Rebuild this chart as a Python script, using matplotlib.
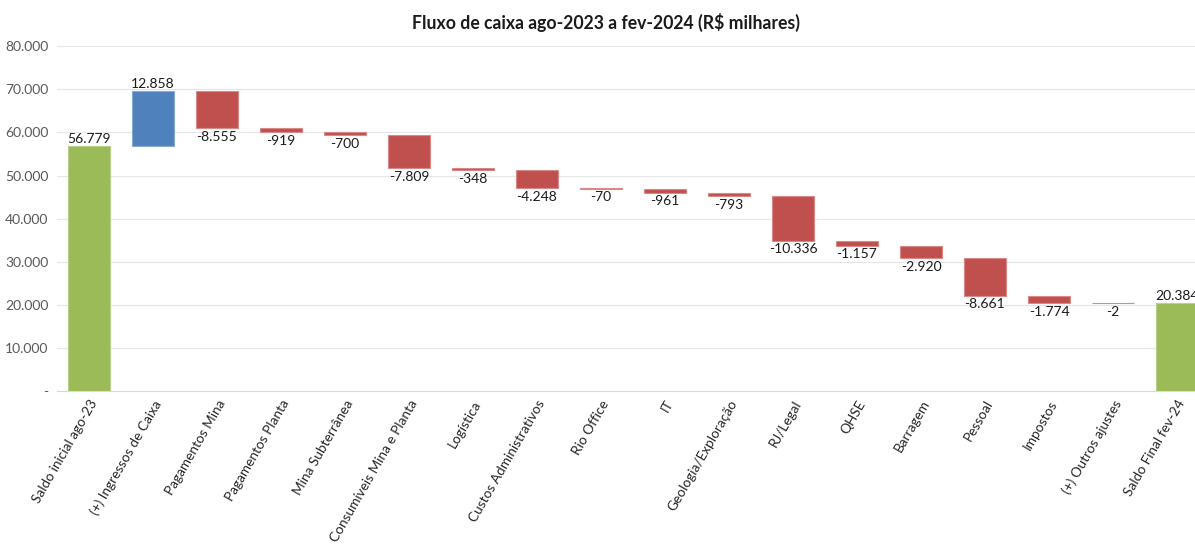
import numpy as np
import matplotlib

matplotlib.use("Agg")
import matplotlib.pyplot as plt
from matplotlib.ticker import FuncFormatter

plt.rcParams["font.family"] = ["Lato", "DejaVu Sans"]

categories = [
    "Saldo inicial ago-23",
    "(+) Ingressos de Caixa",
    "Pagamentos Mina",
    "Pagamentos Planta",
    "Mina Subterrânea",
    "Consumíveis Mina e Planta",
    "Logística",
    "Custos Administrativos",
    "Rio Office",
    "IT",
    "Geologia/Exploração",
    "RJ/Legal",
    "QHSE",
    "Barragem",
    "Pessoal",
    "Impostos",
    "(+) Outros ajustes",
    "Saldo Final fev-24",
]
start_balance = 56779
deltas = [12858, -8555, -919, -700, -7809, -348, -4248, -70, -961, -793,
          -10336, -1157, -2920, -8661, -1774, -2]
end_balance = 20384

GREEN = "#9BBB59"
BLUE = "#4F81BD"
RED = "#C0504D"


def fmt_br(v):
    return f"{v:,.0f}".replace(",", ".")


# build waterfall pieces
bottoms = [0]
heights = [start_balance]
colors = [GREEN]
edges = ["#B8D08A"]
level = start_balance
for d in deltas:
    if d >= 0:
        bottoms.append(level)
        heights.append(d)
        colors.append(BLUE)
        edges.append("#8AAAD6")
    else:
        bottoms.append(level + d)
        heights.append(-d)
        colors.append(RED)
        edges.append("#D98A88")
    level += d
bottoms.append(0)
heights.append(end_balance)
colors.append(GREEN)
edges.append("#B8D08A")

values = [start_balance] + deltas + [end_balance]
x = np.arange(len(categories))

fig = plt.figure(figsize=(11.95, 5.44), dpi=100)
ax = fig.add_axes([0.0477, 0.281, 0.964, 0.634])

ax.bar(x, heights, bottom=bottoms, width=0.66, color=colors,
       edgecolor=edges, linewidth=0.8, zorder=3)

for i, v in enumerate(values):
    top = bottoms[i] + heights[i]
    if v >= 0:
        ax.annotate(fmt_br(v), (x[i], top), xytext=(0, 1), textcoords="offset points",
                    ha="center", va="bottom", fontsize=10, color="#1a1a1a")
    else:
        ax.annotate(fmt_br(v), (x[i], bottoms[i]), xytext=(0, -2), textcoords="offset points",
                    ha="center", va="top", fontsize=10, color="#1a1a1a")

ax.set_xlim(-0.5, len(categories) - 0.5)
ax.set_ylim(0, 80000)
ax.set_yticks(np.arange(0, 80001, 10000))
ax.yaxis.set_major_formatter(FuncFormatter(lambda v, p: "-" if v == 0 else fmt_br(v)))
ax.tick_params(axis="y", length=0, labelsize=10, labelcolor="#595959", pad=6)

ax.set_xticks(x)
ax.set_xticklabels(categories, rotation=60, ha="right", rotation_mode="anchor",
                   fontsize=9.8, color="#262626")
ax.tick_params(axis="x", length=0, pad=5)

ax.grid(axis="y", color="#E6E6E6", linewidth=0.8, zorder=0)
for side in ["top", "right", "left"]:
    ax.spines[side].set_visible(False)
ax.spines["bottom"].set_color("#D9D9D9")

fig.text(0.507, 0.958, "Fluxo de caixa ago-2023 a fev-2024 (R$ milhares)",
         ha="center", va="center", fontsize=12.7, fontweight="bold", color="#1a1a1a")

fig.savefig("out.png", dpi=100)
plt.close(fig)
